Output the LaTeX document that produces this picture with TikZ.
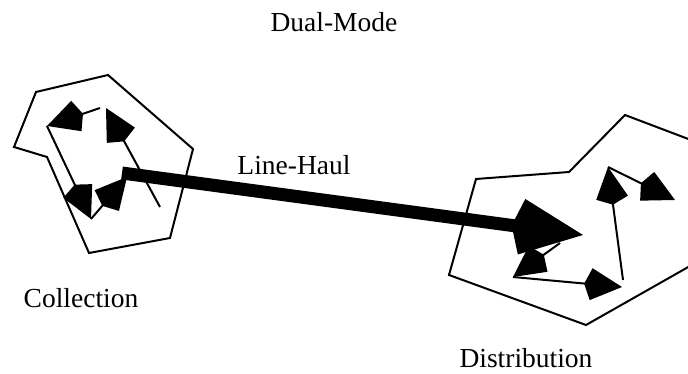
\documentclass[tikz,border=0pt]{standalone}
\usepackage{fontspec}
\setmainfont{Liberation Serif}
\usetikzlibrary{arrows.meta}
\begin{document}
\begin{tikzpicture}[
    x=1pt, y=-1pt,
    region/.style={
        draw,
        line width=2pt,
        line join=miter
    },
    route/.style={
        -{Kite[length=38pt, width=32pt, inset=7pt]},
        line width=2pt
    },
    haul/.style={
        -{Kite[length=72pt, width=56pt, inset=10pt]},
        line width=13pt
    },
    label/.style={
        anchor=base,
        inner sep=0pt,
        font=\fontsize{27.5}{33}\selectfont
    }
]
\useasboundingbox (0,0) rectangle (688,374);
\clip (0,0) rectangle (688,374);

% ===== Labels =====
\node[label] (mode)  at (334,32)  {Dual-Mode};
\node[label] (haullabel) at (294,175) {Line-Haul};
\node[label] (coll)  at (81,307)  {Collection};
\node[label] (dist)  at (526,367) {Distribution};

% ===== Regions =====
\draw[region] (36,92) -- (108,75) -- (193,149) -- (170,238)
    -- (89,253) -- (47,157) -- (14,147) -- cycle;
\draw[region] (476,179) -- (569,172) -- (625,115) -- (720,151)
    -- (720,249) -- (586,325) -- (449,275) -- cycle;

% ===== Collection points =====
\coordinate (c1) at (100,108);
\coordinate (c2) at (47,126);
\coordinate (c3) at (91,219);
\coordinate (c4) at (127,177);
\coordinate (c5) at (160,207);
\coordinate (c6) at (106,108);

% ===== Distribution points =====
\coordinate (d1) at (560,243);
\coordinate (d2) at (513,277);
\coordinate (d3) at (622,287);
\coordinate (d4) at (623,280);
\coordinate (d5) at (608,167);
\coordinate (d6) at (675,200);

% ===== Collection arrows =====
\draw[route] (c1) -- (c2);
\draw[route] (c2) -- (c3);
\draw[route] (c3) -- (c4);
\draw[route] (c5) -- (c6);

% ===== Distribution arrows =====
\draw[route] (d1) -- (d2);
\draw[route] (d2) -- (d3);
\draw[route] (d4) -- (d5);
\draw[route] (d5) -- (d6);

% ===== Line-haul =====
\coordinate (hstart) at (122,173);
\coordinate (hend)   at (583,235);
\draw[haul] (hstart) -- (hend);

\end{tikzpicture}
\end{document}
